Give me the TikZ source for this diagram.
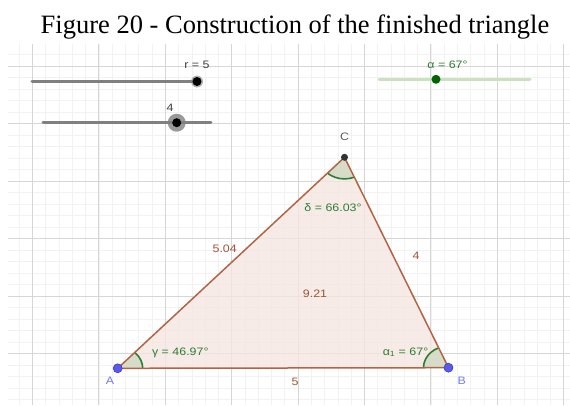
\documentclass[tikz,border=0pt]{standalone}
\usepackage{fontspec}
\setmainfont{Liberation Serif}
\newfontfamily\ggfont[FakeStretch=1.15]{Liberation Sans}
\definecolor{edgec}{RGB}{178,100,68}
\definecolor{elabel}{RGB}{160,84,50}
\definecolor{anggreen}{RGB}{46,125,50}
\definecolor{angfill}{RGB}{214,220,200}
\definecolor{trifill}{RGB}{244,230,224}
\definecolor{ptblue}{RGB}{90,90,240}
\definecolor{ptlabel}{RGB}{120,120,250}
\definecolor{majorgrid}{RGB}{214,214,214}
\definecolor{minorgrid}{RGB}{242,242,242}
\definecolor{slidergray}{RGB}{128,128,128}
\definecolor{slidergreen}{RGB}{200,226,192}
\definecolor{knobgreen}{RGB}{0,100,0}
\begin{document}
\begin{tikzpicture}[x=1pt,y=-1pt,
  minorline/.style={draw=minorgrid,line width=0.7pt},
  majorline/.style={draw=majorgrid,line width=1pt},
  lbl/.style={font=\ggfont\fontsize{10.8}{12}\selectfont,inner sep=0pt},
  edgelbl/.style={lbl,text=elabel},
  anglbl/.style={lbl,text=anggreen},
  ptlbl/.style={lbl,text=ptlabel},
  side/.style={draw=edgec,line width=1.5pt},
  sector/.style={fill=angfill,draw=anggreen,line width=1.6pt},
  ptdot/.style={circle,fill=ptblue,draw=ptblue!70!black,line width=0.6pt,minimum size=9pt,inner sep=0pt},
  slidergrey/.style={draw=slidergray,line width=3pt,line cap=round},
  slidergreenline/.style={draw=slidergreen,line width=3pt,line cap=round}]
\useasboundingbox (0,0) rectangle (570,405);
% grid
\begin{scope}
\clip (8,44) rectangle (570,405);
\foreach \i in {-2,...,42} {\draw[minorline] ({32.5+13.28*\i},44) -- ({32.5+13.28*\i},405);}
\foreach \j in {-2,...,32} {\draw[minorline] (8,{66+11.5*\j}) -- (570,{66+11.5*\j});}
\foreach \i in {0,...,8} {\draw[majorline] ({32.5+66.4*\i},44) -- ({32.5+66.4*\i},405);}
\foreach \j in {0,...,6} {\draw[majorline] (8,{66+57.5*\j}) -- (570,{66+57.5*\j});}
\end{scope}
% title
\node[anchor=base,font=\fontsize{26.5}{30}\selectfont,inner sep=0pt] (title) at (295,33) {Figure 20 - Construction of the finished triangle};
% sliders
\coordinate (r0) at (32,81.5);
\coordinate (r1) at (197,81.5);
\draw[slidergrey] (r0) -- (r1);
\fill[slidergray,opacity=0.6] (r1) circle (6);
\node[circle,fill=black,minimum size=9pt,inner sep=0pt] (rk) at (r1) {};
\node[lbl,text=black!75] (rl) at (197,65) {r = 5};
\coordinate (s0) at (43,122.7);
\coordinate (s1) at (211,122.7);
\draw[slidergrey] (s0) -- (s1);
\fill[slidergray,opacity=0.8] (176.7,122.7) circle (9);
\node[circle,fill=black,minimum size=9pt,inner sep=0pt] (sk) at (176.7,122.7) {};
\node[lbl,text=black!75] (sl) at (170,108) {4};
\coordinate (g0) at (379,79.3);
\coordinate (g1) at (530,79.3);
\draw[slidergreenline] (g0) -- (g1);
\node[circle,fill=knobgreen,minimum size=9pt,inner sep=0pt] (gk) at (436,79.3) {};
\node[lbl,text=anggreen] (gl) at (447.5,65) {α = 67°};
% triangle
\coordinate (A) at (117.7,368.3);
\coordinate (B) at (448.5,367.7);
\coordinate (C) at (344.5,157.3);
\fill[trifill,opacity=0.8] (A) -- (B) -- (C) -- cycle;
\begin{scope}
\clip (A) -- (B) -- (C) -- cycle;
\draw[sector] (A) ellipse (25 and 21.6);
\draw[sector] (B) ellipse (25 and 21.6);
\draw[sector] (C) ellipse (25 and 21.6);
\end{scope}
\draw[side] (A) -- (B);
\draw[side] (B) -- (C);
\draw[side] (C) -- (A);
\node[ptdot] (pA) at (A) {};
\node[ptdot] (pB) at (B) {};
\node[circle,fill=black!80,minimum size=7pt,inner sep=0pt] (pC) at (C) {};
% labels
\node[ptlbl] (lA) at (110,380.7) {A};
\node[ptlbl] (lB) at (461.7,381) {B};
\node[lbl,text=black!65] (lC) at (344.5,137) {C};
\node[edgelbl] (l504) at (224.7,249) {5.04};
\node[edgelbl] (l4) at (416,255.5) {4};
\node[edgelbl] (l921) at (315,294) {9.21};
\node[edgelbl] (l5) at (295,381.7) {5};
\node[anglbl] (ld) at (333,207.7) {δ = 66.03°};
\node[anglbl] (lg) at (180.3,353.3) {γ = 46.97°};
\node[anglbl] (la) at (405.5,352.3) {α\textsubscript{1} = 67°};
\end{tikzpicture}
\end{document}
